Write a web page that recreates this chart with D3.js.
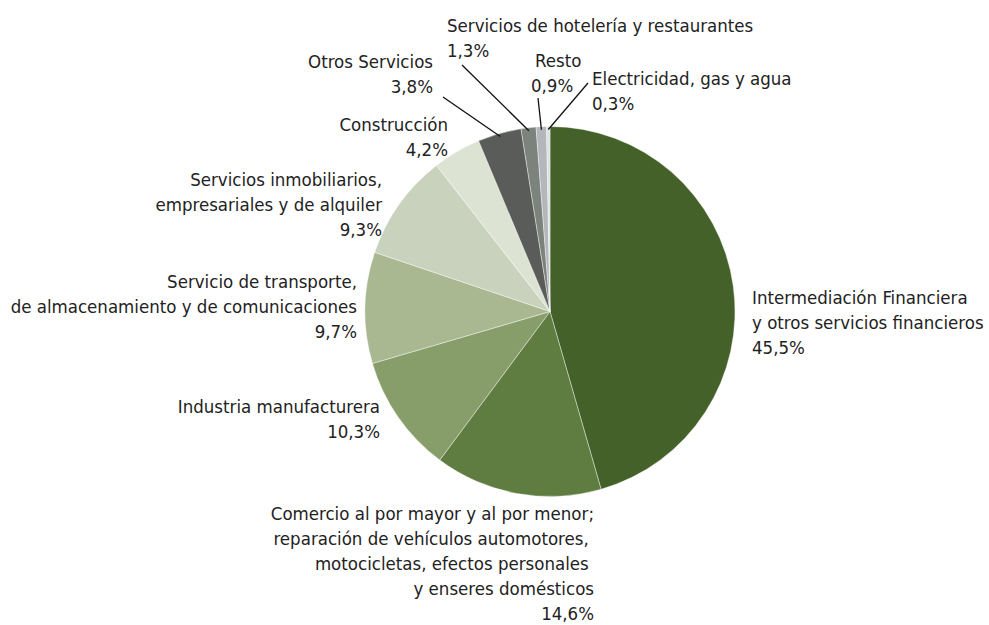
<!DOCTYPE html>
<html>
<head>
<meta charset="utf-8">
<script src="https://cdn.jsdelivr.net/npm/d3@7"></script>
<style>
  body { margin: 0; background: #fff; }
  svg text { font-family: "DejaVu Sans Condensed", "DejaVu Sans", sans-serif; font-size: 18.5px; fill: #222; }
</style>
</head>
<body>
<div id="chart"></div>
<script>
// sector names (lines of each label), shares in %, slice colours
var sectors = [
  ["Intermediación Financiera", "y otros servicios financieros"],
  ["Comercio al por mayor y al por menor;", "reparación de vehículos automotores,\u00a0", "motocicletas, efectos personales\u00a0", "y enseres domésticos"],
  ["Industria manufacturera"],
  ["Servicio de transporte,", "de almacenamiento y de comunicaciones"],
  ["Servicios inmobiliarios,", "empresariales y de alquiler"],
  ["Construcción"],
  ["Otros Servicios"],
  ["Servicios de hotelería y restaurantes"],
  ["Resto"],
  ["Electricidad, gas y agua"]
];
var shares = [45.5, 14.6, 10.3, 9.7, 9.3, 4.2, 3.8, 1.3, 0.9, 0.3];
var colors = ["#436128", "#5f7c41", "#889e6a", "#a9b891", "#c8d2bc", "#dde3d3", "#5a5c5a", "#7c827c", "#b3b6bb", "#dde0e4"];

var width = 989, height = 625;
var cx = 550, cy = 311.5, radius = 185;
var lineH = 25;

// where each label sits (first baseline), and the end of the leader line if any
var labelPos = [
  {x: 752, y: 304, anchor: "start"},
  {x: 594, y: 520, anchor: "end"},
  {x: 380, y: 413, anchor: "end"},
  {x: 357, y: 288, anchor: "end"},
  {x: 382, y: 186, anchor: "end"},
  {x: 448, y: 131, anchor: "end"},
  {x: 433, y: 68, anchor: "end", lx: 443, ly: 97},
  {x: 447, y: 32, anchor: "start", lx: 462, ly: 65},
  {x: 535, y: 67, anchor: "start", lx: 538, ly: 98, pctDx: -4},
  {x: 592, y: 85, anchor: "start", lx: 588, ly: 83}
];

var svg = d3.select("#chart").append("svg")
    .attr("width", width)
    .attr("height", height);

var pie = d3.pie()
    .sort(null)
    .value(function(d) { return d; });

var arc = d3.arc().innerRadius(0).outerRadius(radius);
var edge = d3.arc().innerRadius(radius - 3).outerRadius(radius - 3);

var arcs = pie(shares);

var g = svg.append("g").attr("transform", "translate(" + cx + "," + cy + ")");

g.selectAll("path.slice")
    .data(arcs)
  .enter().append("path")
    .attr("class", "slice")
    .attr("d", arc)
    .attr("fill", function(d, i) { return colors[i]; })
    .attr("stroke", "#fff")
    .attr("stroke-width", 0.4);

// leader lines for the thin slices
arcs.forEach(function(d, i) {
  var p = labelPos[i];
  if (p.lx === undefined) return;
  var c = edge.centroid(d);
  svg.append("line")
    .attr("x1", p.lx).attr("y1", p.ly)
    .attr("x2", cx + c[0]).attr("y2", cy + c[1])
    .attr("stroke", "#111")
    .attr("stroke-width", 1.3);
});

var fmt = function(v) { return d3.format(".1f")(v).replace(".", ",") + "%"; };

sectors.forEach(function(lines, i) {
  var p = labelPos[i];
  var t = svg.append("text")
    .attr("text-anchor", p.anchor);
  lines.forEach(function(s, k) {
    t.append("tspan")
      .attr("x", p.x)
      .attr("y", p.y + k * lineH)
      .text(s);
  });
  t.append("tspan")
    .attr("x", p.x + (p.pctDx || 0))
    .attr("y", p.y + lines.length * lineH)
    .text(fmt(shares[i]));
});
</script>
</body>
</html>
